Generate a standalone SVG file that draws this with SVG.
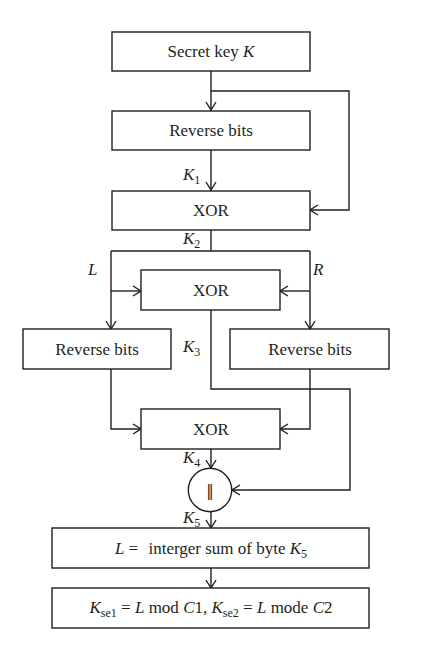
<svg xmlns="http://www.w3.org/2000/svg" width="421" height="660" viewBox="0 0 421 660">
<defs>
<style>
.box{fill:#fff;stroke:#231f20;stroke-width:1.4}
.t{font-family:"Liberation Serif",serif;font-size:17px;fill:#231f20;text-anchor:middle}
.l{font-family:"Liberation Serif",serif;font-size:17px;fill:#231f20}
.i{font-style:italic}
.ln{fill:none;stroke:#231f20;stroke-width:1.4}
.ar{marker-end:url(#a)}
</style>
<marker id="a" markerWidth="10" markerHeight="12" refX="9" refY="6" orient="auto" markerUnits="userSpaceOnUse">
<path d="M1,1 L9,6 L1,11" fill="none" stroke="#231f20" stroke-width="1.4"/>
</marker>
</defs>
<rect width="421" height="660" fill="#fff"/>
<g id="connectors">
<path class="ln ar" d="M211,71 V110"/>
<path class="ln ar" d="M211,91 H349 V210 H310"/>
<path class="ln ar" d="M211,150 V190"/>
<path class="ln" d="M211,230 V251 M111,251 H310"/>
<path class="ln ar" d="M111,251 V329"/>
<path class="ln ar" d="M310,251 V329"/>
<path class="ln ar" d="M111,291 H141"/>
<path class="ln ar" d="M310,291 H280"/>
<path class="ln ar" d="M211,310 V389 H350 V490 H232"/>
<path class="ln ar" d="M111,369 V429 H141"/>
<path class="ln ar" d="M310,369 V429 H280"/>
<path class="ln ar" d="M211,449 V468"/>
<path class="ln ar" d="M211,512 V528"/>
<path class="ln ar" d="M211,568 V588"/>
</g>
<g id="labels">
<text class="l" x="183" y="180"><tspan class="i">K</tspan><tspan font-size="12" dy="4">1</tspan></text>
<text class="l" x="183" y="244"><tspan class="i">K</tspan><tspan font-size="12" dy="4">2</tspan></text>
<text class="l i" x="88" y="275">L</text>
<text class="l i" x="313" y="275">R</text>
<text class="l" x="183" y="352"><tspan class="i">K</tspan><tspan font-size="12" dy="4">3</tspan></text>
<text class="l" x="183" y="463"><tspan class="i">K</tspan><tspan font-size="12" dy="4">4</tspan></text>
<text class="l" x="183" y="523"><tspan class="i">K</tspan><tspan font-size="12" dy="4">5</tspan></text>
</g>
<g id="secret-key">
<rect class="box" x="112" y="32" width="198" height="39"/>
<text class="t" x="211" y="57">Secret key <tspan class="i">K</tspan></text>
</g>
<g id="reverse-bits-1">
<rect class="box" x="112" y="111" width="198" height="39"/>
<text class="t" x="211" y="136">Reverse bits</text>
</g>
<g id="xor-1">
<rect class="box" x="112" y="191" width="198" height="39"/>
<text class="t" x="211" y="216">XOR</text>
</g>
<g id="xor-2">
<rect class="box" x="141" y="270" width="139" height="40"/>
<text class="t" x="211" y="296">XOR</text>
</g>
<g id="reverse-bits-left">
<rect class="box" x="23" y="329" width="148" height="40"/>
<text class="t" x="97" y="355">Reverse bits</text>
</g>
<g id="reverse-bits-right">
<rect class="box" x="230" y="329" width="159" height="40"/>
<text class="t" x="310" y="355">Reverse bits</text>
</g>
<g id="xor-3">
<rect class="box" x="141" y="409" width="139" height="40"/>
<text class="t" x="211" y="435">XOR</text>
</g>
<g id="concat">
<circle class="box" cx="210" cy="490" r="21.7"/>
<text x="210" y="496" style="font-family:'DejaVu Sans',sans-serif;font-size:15px;fill:#231f20;text-anchor:middle">‖</text>
</g>
<g id="sum">
<rect class="box" x="52" y="528" width="317" height="40"/>
<text class="t" x="211" y="554"><tspan class="i">L</tspan> = <tspan dx="6">interger sum of byte </tspan><tspan class="i">K</tspan><tspan font-size="12" dy="4">5</tspan></text>
</g>
<g id="mod">
<rect class="box" x="52" y="588" width="317" height="40"/>
<text class="t" x="211" y="613"><tspan class="i">K</tspan><tspan font-size="12" dy="4">se1</tspan><tspan dy="-4"> = </tspan><tspan class="i">L</tspan> mod <tspan class="i">C</tspan>1, <tspan class="i">K</tspan><tspan font-size="12" dy="4">se2</tspan><tspan dy="-4"> = </tspan><tspan class="i">L</tspan> mode <tspan class="i">C</tspan>2</text>
</g>
</svg>
